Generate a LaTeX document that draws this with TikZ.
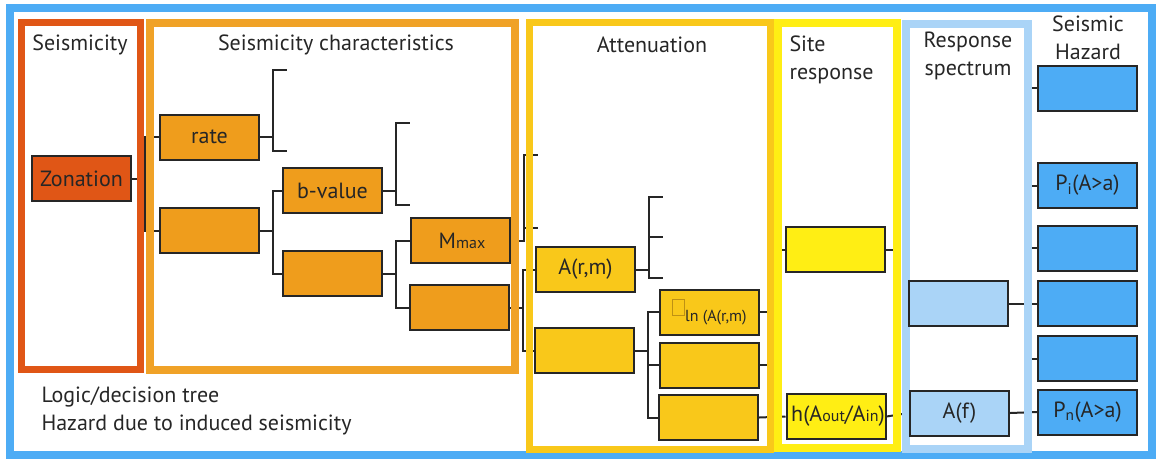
\documentclass[tikz,border=0pt]{standalone}
\usepackage{fontspec}
\setmainfont{PT Sans}

\definecolor{hazblue}{RGB}{77,172,245}
\definecolor{zonred}{RGB}{224,86,22}
\definecolor{charorange}{RGB}{239,157,28}
\definecolor{attgold}{RGB}{249,200,26}
\definecolor{siteyellow}{RGB}{255,238,20}
\definecolor{specblue}{RGB}{170,212,247}
\definecolor{treeline}{RGB}{38,38,38}
\definecolor{tofucol}{RGB}{190,145,20}

\pgfdeclarelayer{wires}
\pgfdeclarelayer{frames}
\pgfsetlayers{wires,frames,main}

\newcommand{\tofu}{{\color{tofucol}\setlength\fboxsep{0pt}\setlength\fboxrule{0.9pt}\fbox{\rule{0pt}{15pt}\hspace{11pt}}}}
\newcommand{\smalltxt}[1]{{\fontsize{16}{18}\selectfont #1}}

\begin{document}
\begin{tikzpicture}[x=1pt, y=-1pt,
		box/.style={draw=treeline, line width=2pt, minimum width=99pt, minimum height=45pt,
			inner sep=0pt, text=black!85, font=\fontsize{22}{26}\selectfont},
		branch/.style={draw=treeline, line width=2pt},
		frame/.style={line width=8pt},
		title/.style={text=black!85, align=center, font=\fontsize{22}{28}\selectfont}]
		\useasboundingbox (0, 0) rectangle (1156, 459);
		
		% seismicity and its characteristics
		\node[box, fill=zonred] (zon) at (81.5, 178.5) {Zonation};
		\node[box, fill=charorange] (rate) at (209.5, 137) {rate};
		\node[box, fill=charorange] (sc2) at (209, 230.5) {};
		\node[box, fill=charorange] (bval) at (332.5, 190.5) {b-value};
		\node[box, fill=charorange] (sc4) at (332.5, 273.5) {};
		\node[box, fill=charorange] (mmax) at (460, 240.5) {\hspace{4pt}M\smalltxt{max}};
		\node[box, fill=charorange] (sc6) at (459, 307.5) {};
		
		% attenuation
		\node[box, fill=attgold] (arm) at (585.5, 269.5) {A(r,m)};
		\node[box, fill=attgold] (at2) at (584, 350.5) {};
		\node[box, fill=attgold] (lnarm) at (709.5, 312)
			{\tofu\raisebox{-6pt}{\smalltxt{ln (A(r,m)}}};
		\node[box, fill=attgold] (at4) at (709, 365) {};
		\node[box, fill=attgold] (at5) at (708.5, 417.5) {};
		
		% site response and spectrum
		\node[box, fill=siteyellow] (sr1) at (835.5, 249.5) {};
		\node[box, fill=siteyellow] (hbox) at (836, 416.5)
			{\makebox[0pt]{\hspace{4pt}h(A\smalltxt{out}/A\smalltxt{in})}};
		\node[box, fill=specblue] (rs1) at (958.5, 303.5) {};
		\node[box, fill=specblue] (af) at (959.5, 413) {A(f)};
		
		% seismic hazard
		\foreach \y/\lbl [count=\i] in {88/{}, 185.5/{P\textsubscript{i}(A>a)}, 248/{}, 303.5/{},
				358.5/{}, 412/{P\textsubscript{n}(A>a)}}
			\node[box, fill=hazblue] (sh\i) at (1087.5, \y) {\lbl};
		
		% loose ends of the tree
		\coordinate (rate-a) at (287, 70);
		\coordinate (rate-b) at (287, 151);
		\coordinate (bval-a) at (410, 123);
		\coordinate (bval-b) at (410, 205);
		\coordinate (mmax-a) at (538, 155);
		\coordinate (mmax-b) at (538, 228);
		\coordinate (arm-a) at (663, 197);
		\coordinate (arm-b) at (663, 237);
		\coordinate (arm-c) at (663, 278);
		\coordinate (lnarm-o) at (772, 312);
		\coordinate (at4-o) at (772, 365);
		\coordinate (sr1-i) at (776, 249.5);
		\coordinate (sr1-o) at (898, 249.5);
		
		\begin{pgfonlayer}{wires}
		\foreach \from/\to in {zon/rate.west, zon/sc2.west, rate/rate-a, rate/rate-b,
				sc2/bval.west, sc2/sc4.west, bval/bval-a, bval/bval-b,
				sc4/mmax.west, sc4/sc6.west, mmax/mmax-a, mmax/mmax-b,
				sc6/arm.west, sc6/at2.west, arm/arm-a, arm/arm-b, arm/arm-c,
				at2/lnarm.west, at2/at4.west, at2/at5.west}
			\draw[branch] (\from.east) -- +(13, 0) |- (\to);
		
		\draw[branch] (lnarm.east) -- (lnarm-o);
		\draw[branch] (at4.east) -- (at4-o);
		\draw[branch] (at5.east) -- (hbox.west);
		\draw[branch] (sr1-i) -- (sr1.west);
		\draw[branch] (sr1.east) -- (sr1-o);
		\draw[branch] (hbox.east) -- (af.west);
		\draw[branch] (rs1.east) -- (sh4.west);
		\draw[branch] (af.east) -- (sh6.west);
		\foreach \i in {1, 2, 3, 5}
			\draw[branch] (sh\i.west) -- ++(-10, 0) coordinate (sh\i-in);
		\end{pgfonlayer}
		
		% column frames
		\begin{pgfonlayer}{frames}
		\draw[frame, hazblue] (10, 8) rectangle (1152, 455);
		\draw[frame, zonred, line width=7pt] (21, 22.5) rectangle (140, 369);
		\draw[frame, charorange!95!white] (149.5, 22.5) rectangle (515, 369.5);
		\draw[frame, attgold, line width=7pt] (529.5, 22.5) rectangle (770, 449);
		\draw[frame, siteyellow] (777.5, 22.5) rectangle (896.5, 447.5);
		\draw[frame, specblue] (906, 24) rectangle (1027.5, 449);
		\end{pgfonlayer}
		
		% titles
		\node[title] (t-seis) at (80, 45) {Seismicity};
		\node[title] (t-char) at (336, 45) {Seismicity characteristics};
		\node[title] (t-att) at (652, 45) {Attenuation};
		\node[title, align=left, anchor=west] (t-site) at (786, 60) {Site\\response};
		\node[title] (t-spec) at (968, 56) {Response\\spectrum};
		\node[title] (t-haz) at (1088, 38) {Seismic\\Hazard};
		\node[title, align=left, anchor=west] (t-note) at (38, 411)
			{Logic/decision tree\\Hazard due to induced seismicity};
\end{tikzpicture}
\end{document}
